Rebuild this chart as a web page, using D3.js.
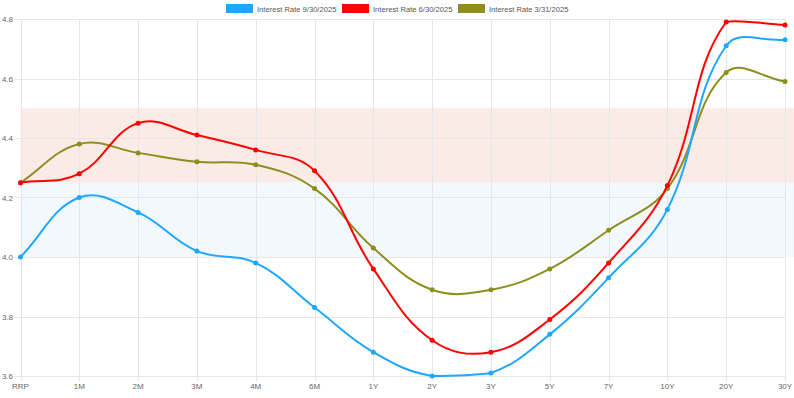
<!DOCTYPE html>
<html>
<head>
<meta charset="utf-8">
<script src="https://cdn.jsdelivr.net/npm/d3@7"></script>
<style>
  html, body { margin: 0; padding: 0; background: #fff; }
  text { font-family: "Liberation Sans", Arial, sans-serif; }
</style>
</head>
<body>
<div id="chart"></div>
<script>
// maturities on the x axis
var categories = ['RRP', '1M', '2M', '3M', '4M', '6M', '1Y', '2Y', '3Y', '5Y', '7Y', '10Y', '20Y', '30Y'];

var seriesNames = ['Interest Rate 9/30/2025', 'Interest Rate 6/30/2025', 'Interest Rate 3/31/2025'];

var rates0930 = [4.00, 4.20, 4.15, 4.02, 3.98, 3.83, 3.68, 3.60, 3.61, 3.74, 3.93, 4.16, 4.71, 4.73];
var rates0630 = [4.25, 4.28, 4.45, 4.41, 4.36, 4.29, 3.96, 3.72, 3.68, 3.79, 3.98, 4.24, 4.79, 4.78];
var rates0331 = [4.25, 4.38, 4.35, 4.32, 4.31, 4.23, 4.03, 3.89, 3.89, 3.96, 4.09, 4.23, 4.62, 4.59];

var yTicks = [3.6, 3.8, 4.0, 4.2, 4.4, 4.6, 4.8];

// shaded ranges (fed funds bands)
var bandLow = [4.00, 4.25];
var bandHigh = [4.25, 4.50];

var colors = ['#1ea7ff', '#ff0000', '#8e8e1e'];

var width = 794,
    height = 398;
// note: "top" is taken by window.top, so use plot* names
var plotLeft = 20.5, plotRight = 785, plotTop = 19, plotBottom = 376;

var svg = d3.select('#chart').append('svg')
    .attr('width', width)
    .attr('height', height);

var x = d3.scalePoint().domain(categories).range([plotLeft, plotRight]);
var y = d3.scaleLinear().domain([3.6, 4.8]).range([plotBottom, plotTop]);

// bands behind everything
svg.append('rect')
    .attr('x', plotLeft).attr('width', width - plotLeft)
    .attr('y', y(bandHigh[1])).attr('height', y(bandHigh[0]) - y(bandHigh[1]))
    .attr('fill', '#fbebe6');
svg.append('rect')
    .attr('x', plotLeft).attr('width', width - plotLeft)
    .attr('y', y(bandLow[1])).attr('height', y(bandLow[0]) - y(bandLow[1]))
    .attr('fill', '#f3f8ff');

// grid
var grid = svg.append('g').attr('stroke', '#e6e6e6').attr('stroke-width', 1);
grid.selectAll('.hg').data(yTicks).enter().append('line')
    .attr('x1', plotLeft - 6).attr('x2', plotRight)
    .attr('y1', function (d) { return Math.round(y(d)) + 0.5; })
    .attr('y2', function (d) { return Math.round(y(d)) + 0.5; });
grid.selectAll('.vg').data(categories).enter().append('line')
    .attr('y1', plotTop).attr('y2', plotBottom + 5)
    .attr('x1', function (d) { return Math.round(x(d)) + 0.5; })
    .attr('x2', function (d) { return Math.round(x(d)) + 0.5; });

// tick labels
svg.selectAll('.yl').data(yTicks).enter().append('text')
    .attr('x', 13).attr('y', function (d) { return y(d) + 3; })
    .attr('text-anchor', 'end')
    .attr('font-size', 8).attr('fill', '#666')
    .text(function (d) { return d.toFixed(1); });
svg.selectAll('.xl').data(categories).enter().append('text')
    .attr('x', function (d) { return x(d); }).attr('y', 389)
    .attr('text-anchor', 'middle')
    .attr('font-size', 8).attr('fill', '#666')
    .text(function (d) { return d; });

// chart.js style spline (tension 0.4), control points capped to the area
function splinePath(pts, t) {
    var cl = function (v, a, b) { return Math.max(a, Math.min(b, v)); };
    var cps = pts.map(function (p, i) {
        var prev = pts[i - 1] || p, next = pts[i + 1] || p;
        var d01 = Math.hypot(p[0] - prev[0], p[1] - prev[1]);
        var d12 = Math.hypot(next[0] - p[0], next[1] - p[1]);
        var s01 = d01 / (d01 + d12) || 0, s12 = d12 / (d01 + d12) || 0;
        var fa = t * s01, fb = t * s12;
        return {
            px: cl(p[0] - fa * (next[0] - prev[0]), plotLeft, plotRight),
            py: cl(p[1] - fa * (next[1] - prev[1]), plotTop, plotBottom),
            nx: cl(p[0] + fb * (next[0] - prev[0]), plotLeft, plotRight),
            ny: cl(p[1] + fb * (next[1] - prev[1]), plotTop, plotBottom)
        };
    });
    var path = d3.path();
    path.moveTo(pts[0][0], pts[0][1]);
    for (var i = 1; i < pts.length; i++) {
        path.bezierCurveTo(cps[i - 1].nx, cps[i - 1].ny, cps[i].px, cps[i].py, pts[i][0], pts[i][1]);
    }
    return path.toString();
}

var series = [rates0930, rates0630, rates0331];
// draw the oldest first so the newest sits on top
[2, 1, 0].forEach(function (k) {
    var vals = series[k];
    var pts = vals.map(function (v, i) { return [x(categories[i]), y(v)]; });
    var g = svg.append('g');
    g.append('path')
        .attr('d', splinePath(pts, 0.4))
        .attr('fill', 'none')
        .attr('stroke', colors[k])
        .attr('stroke-width', 2);
    g.selectAll('circle').data(pts).enter().append('circle')
        .attr('cx', function (d) { return d[0]; })
        .attr('cy', function (d) { return d[1]; })
        .attr('r', 2.5)
        .attr('fill', colors[k]);
});

// legend
var legendX = [226, 342, 458];
var legend = svg.selectAll('.lg').data(seriesNames).enter().append('g')
    .attr('transform', function (d, i) { return 'translate(' + legendX[i] + ',4)'; });
legend.append('rect')
    .attr('width', 27).attr('height', 9)
    .attr('fill', function (d, i) { return colors[i]; });
legend.append('text')
    .attr('x', 31).attr('y', 8)
    .attr('font-size', 7.6).attr('fill', '#555')
    .text(function (d) { return d; });
</script>
</body>
</html>
